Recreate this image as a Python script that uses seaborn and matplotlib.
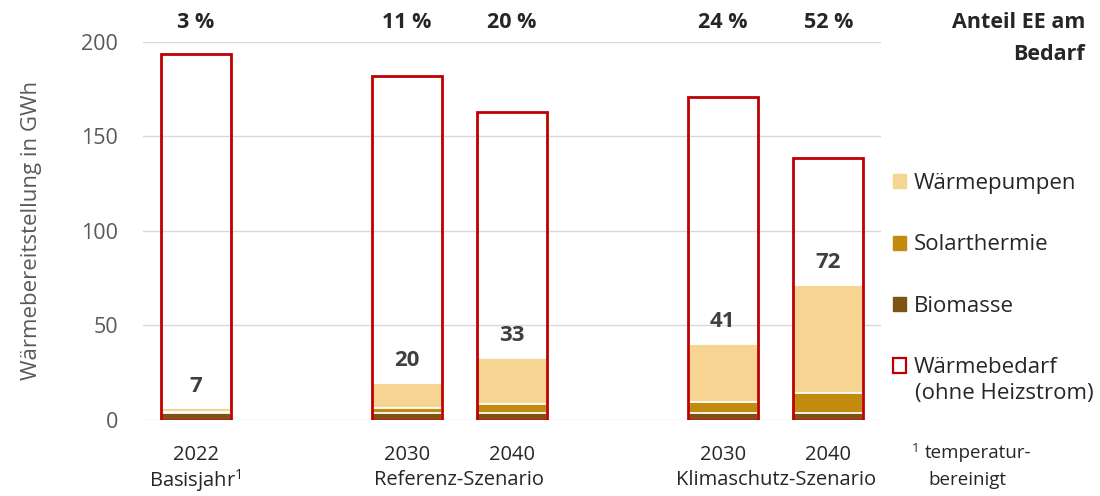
import pandas as pd
import seaborn as sns
import matplotlib.pyplot as plt
from matplotlib.patches import Patch

# Daten (GWh)
keys = ["2022", "Ref 2030", "Ref 2040", "KS 2030", "KS 2040"]
years = ["2022", "2030", "2040", "2030", "2040"]
bedarf = [193.3, 181.7, 162.6, 170.7, 138.3]
biomasse = [3.6, 3.7, 3.7, 3.7, 3.7]
solarthermie = [0.4, 2.4, 4.5, 5.6, 10.4]
waermepumpen = [2.0, 13.4, 24.5, 31.0, 57.1]
ee_summe = [7, 20, 33, 41, 72]
anteil_ee = ["3 %", "11 %", "20 %", "24 %", "52 %"]
gruppen = ["Basisjahr$\\mathregular{^1}$", "Referenz-Szenario", "Klimaschutz-Szenario"]

df = pd.DataFrame({
    "key": keys,
    "bedarf": bedarf,
    "bio": biomasse,
    "solar": solarthermie,
    "wp": waermepumpen,
})
df["top_bio"] = df["bio"]
df["top_solar"] = df["bio"] + df["solar"]
df["top_wp"] = df["top_solar"] + df["wp"]

# Kategorien mit Luecken zwischen den Szenarien
order = ["2022", "gap1", "Ref 2030", "Ref 2040", "gap2", "KS 2030", "KS 2040"]
pos = [order.index(k) for k in keys]

c_wp = "#F6D491"
c_solar = "#C28A0F"
c_bio = "#7D5411"
c_red = "#C00000"
c_dark = "#262626"
c_grey = "#595959"

sns.set_theme(style="white")
plt.rcParams["font.family"] = ["Open Sans", "DejaVu Sans"]
plt.rcParams["mathtext.fontset"] = "custom"
plt.rcParams["mathtext.rm"] = "Open Sans"

fig = plt.figure(figsize=(11, 4.96), dpi=100)
ax = fig.add_axes([143 / 1100, 1 - 419.7 / 496, 738 / 1100, 378 / 496])

bw = 0.665
for col, c in [("top_wp", c_wp), ("top_solar", c_solar), ("top_bio", c_bio)]:
    sns.barplot(data=df, x="key", y=col, order=order, color=c, width=bw,
                saturation=1, edgecolor="white", linewidth=1.3, errorbar=None, ax=ax)

sns.barplot(data=df, x="key", y="bedarf", order=order, color=c_red, width=bw,
            saturation=1, fill=False, linewidth=2.0, errorbar=None, ax=ax)

ax.set_ylim(0, 200)
ax.set_xlim(-0.5, 6.5)
ax.set_yticks([0, 50, 100, 150, 200])
ax.yaxis.grid(True, color="#D9D9D9", linewidth=1)
ax.set_axisbelow(True)
for s in ax.spines.values():
    s.set_visible(False)

ax.set_xticks(pos)
ax.set_xticklabels(years, fontsize=14.5, color=c_dark)
ax.tick_params(axis="x", length=0, pad=18)
ax.tick_params(axis="y", length=0, pad=18, labelsize=15.5, labelcolor=c_grey)

ax.set_xlabel("")
ax.set_ylabel("Wärmebereitstellung in GWh", fontsize=16, color=c_grey)
ax.yaxis.set_label_coords(-0.137, 0.5)

# Werte der erneuerbaren Energien ueber den Saeulen
for p, top, v in zip(pos, df["top_wp"], ee_summe):
    ax.annotate(f"{v}", (p, top), xytext=(0, 16), textcoords="offset points",
                ha="center", va="center", fontsize=16, fontweight="bold",
                color="#404040")

# Anteil EE am Bedarf oben
for p, t in zip(pos, anteil_ee):
    ax.text(p, 1.05, t, transform=ax.get_xaxis_transform(), ha="center",
            va="center", fontsize=15.5, fontweight="bold", color=c_dark)
fig.text(1085 / 1100, 1 - 22 / 496, "Anteil EE am", ha="right", va="center",
         fontsize=15.5, fontweight="bold", color=c_dark)
fig.text(1085 / 1100, 1 - 54 / 496, "Bedarf", ha="right", va="center",
         fontsize=15.5, fontweight="bold", color=c_dark)

# Gruppenbeschriftung
grp_x = [pos[0], (pos[1] + pos[2]) / 2, (pos[3] + pos[4]) / 2]
for gx, g in zip(grp_x, gruppen):
    ax.text(gx, -0.16, g, transform=ax.get_xaxis_transform(), ha="center",
            va="center", fontsize=14.5, color=c_dark)

fig.text(912 / 1100, 1 - 448 / 496, "1", ha="left", va="center",
         fontsize=9.5, color=c_dark)
fig.text(925 / 1100, 1 - 453 / 496, "temperatur-", ha="left", va="center",
         fontsize=13.5, color=c_dark)
fig.text(928 / 1100, 1 - 480 / 496, "bereinigt", ha="left", va="center",
         fontsize=13.5, color=c_dark)

handles = [
    Patch(facecolor=c_wp, edgecolor=c_wp),
    Patch(facecolor=c_solar, edgecolor=c_solar),
    Patch(facecolor=c_bio, edgecolor=c_bio),
    Patch(facecolor="white", edgecolor=c_red, linewidth=1.6),
]
labels = ["Wärmepumpen", "Solarthermie", "Biomasse", "Wärmebedarf"]
leg = ax.legend(handles, labels, loc="upper left", bbox_to_anchor=(893 / 1100, 1 - 173 / 496),
                bbox_transform=fig.transFigure, frameon=False, fontsize=16,
                handlelength=0.6, handleheight=0.6, handletextpad=0.35,
                labelspacing=1.82, borderpad=0, borderaxespad=0)
for t in leg.get_texts():
    t.set_color(c_dark)
fig.text(915 / 1100, 1 - 394 / 496, "(ohne Heizstrom)", ha="left", va="center",
         fontsize=16, color=c_dark)

fig.savefig("out.png", dpi=100)
